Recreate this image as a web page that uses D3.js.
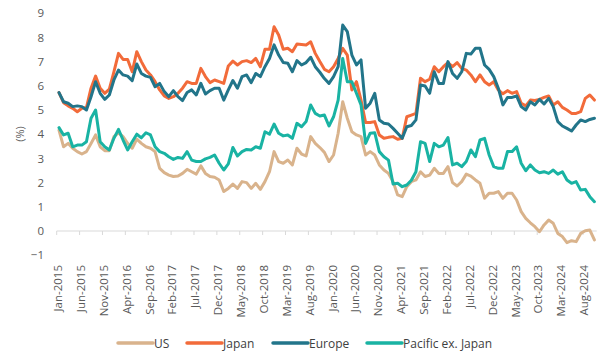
<!DOCTYPE html>
<html><head><meta charset="utf-8">
<script src="https://cdn.jsdelivr.net/npm/d3@7"></script>
<style>
html,body{margin:0;padding:0;background:#fff;}
svg{display:block;font-family:"Open Sans",sans-serif;}
</style></head>
<body>
<script>
// ---- data ----
const startMonth = new Date(2015, 0, 1);
const months = d3.timeMonth.range(startMonth, new Date(2024, 10, 1)); // Jan-2015 .. Oct-2024 (118)
const tickLabels = ["Jan-2015","Jun-2015","Nov-2015","Apr-2016","Sep-2016","Feb-2017","Jul-2017","Dec-2017",
  "May-2018","Oct-2018","Mar-2019","Aug-2019","Jan-2020","Jun-2020","Nov-2020","Apr-2021","Sep-2021",
  "Feb-2022","Jul-2022","Dec-2022","May-2023","Oct-2023","Mar-2024","Aug-2024"];
const yTicks = [-1,0,1,2,3,4,5,6,7,8,9];
const seriesNames = ["US","Japan","Europe","Pacific ex. Japan"];

const us = [4.17,3.48,3.62,3.42,3.28,3.18,3.28,3.62,3.97,3.48,3.32,3.32,3.9,4.06,3.9,3.62,3.42,3.8,3.62,
  3.48,3.42,3.28,2.59,2.41,2.31,2.25,2.27,2.38,2.55,2.45,2.35,2.69,2.38,2.25,2.22,2.11,1.63,1.76,1.94,
  1.76,2.04,2.0,1.76,1.97,1.72,2.04,2.45,3.28,2.87,2.8,2.93,2.73,3.42,3.18,3.1,3.9,3.62,3.45,3.25,
  2.87,3.14,4.04,5.34,4.66,4.1,3.97,3.9,3.14,3.28,3.14,2.73,2.52,2.38,2.04,1.49,1.42,1.83,2.04,
  2.11,2.45,2.25,2.31,2.59,2.38,2.38,2.66,2.0,1.86,2.04,2.35,2.27,2.11,1.97,1.35,1.56,1.56,1.63,1.35,
  1.56,1.56,1.28,0.8,0.52,0.34,0.18,-0.03,0.25,0.45,0.32,-0.1,-0.23,-0.48,-0.4,-0.44,-0.1,0.01,0.04,-0.37];
const japan = [5.72,5.3,5.17,5.07,4.93,5.07,5.1,5.9,6.4,5.9,5.69,5.86,6.58,7.34,7.09,7.09,6.58,7.41,7.0,
  6.65,6.45,6.17,5.83,5.58,5.48,5.55,5.69,5.9,6.17,6.1,6.1,6.72,6.38,6.13,6.24,6.17,6.1,6.82,7.02,
  6.86,7.0,7.04,6.96,7.13,6.79,7.51,7.51,8.44,8.1,7.51,7.55,7.41,7.73,7.71,7.69,7.82,7.34,7.0,6.68,
  6.58,6.79,7.13,7.55,7.27,5.83,6.17,5.41,4.48,4.48,4.52,3.97,3.83,3.87,3.9,3.79,3.83,4.72,4.79,
  4.86,6.31,6.17,6.27,6.79,6.58,6.79,6.96,6.79,6.96,6.72,6.65,6.45,6.17,6.45,6.17,6.03,6.17,5.83,5.67,
  5.8,5.69,5.76,5.28,5.17,5.41,5.39,5.44,5.52,5.58,5.21,5.34,5.11,5.0,4.86,4.86,4.93,5.48,5.62,5.41];
const europe = [5.72,5.34,5.28,5.14,5.17,5.14,5.0,5.55,6.17,5.69,5.44,5.62,6.24,6.65,6.45,6.4,6.21,6.9,6.51,
  6.4,6.35,5.96,6.1,5.76,5.55,5.8,5.55,5.39,5.72,5.83,5.62,6.1,5.66,5.8,5.9,5.9,5.41,5.83,6.22,
  5.9,6.38,6.45,6.13,6.51,6.38,6.79,7.13,7.69,7.27,6.96,6.93,6.58,7.04,6.86,6.96,7.18,6.79,6.56,6.3,
  6.1,6.38,6.79,8.51,8.24,7.27,6.86,7.07,5.07,5.28,5.69,4.59,4.45,4.42,4.24,4.04,3.83,4.31,4.36,
  4.59,6.03,5.99,5.69,6.58,6.1,6.1,7.0,6.51,6.31,6.58,7.34,7.31,7.55,7.55,6.86,6.68,6.38,5.9,5.21,
  5.52,5.52,5.58,5.14,5.0,5.34,5.21,5.44,5.25,5.48,5.14,4.52,4.34,4.24,4.13,4.38,4.59,4.52,4.61,4.66];
const pacific = [4.27,3.97,4.04,3.48,3.55,3.55,3.69,4.66,5.0,3.69,3.48,3.35,3.83,4.2,3.76,3.35,3.69,4.0,3.85,
  4.06,3.97,3.48,3.28,3.21,3.07,2.96,3.04,3.0,3.28,2.93,2.87,2.87,2.98,3.04,3.14,2.8,2.52,2.77,3.45,
  3.1,3.28,3.37,3.35,3.48,3.42,4.1,4.0,4.42,4.04,3.93,3.97,3.83,4.45,4.31,4.52,5.21,4.86,4.75,4.79,
  4.34,4.72,5.41,7.13,6.17,6.17,5.69,5.21,3.62,4.04,4.06,3.28,3.07,2.93,1.94,1.97,1.83,1.9,2.1,
  2.45,3.69,3.62,2.87,3.62,3.48,3.55,3.86,2.73,2.8,2.66,2.87,3.35,3.07,3.76,3.83,3.14,2.66,2.59,2.59,
  3.28,3.28,3.48,2.8,2.49,2.73,2.52,2.41,2.45,2.38,2.52,2.35,2.45,2.11,1.97,2.04,1.69,1.72,1.42,1.21];

const colors = ["#d9b38c","#f26b3a","#22758a","#19b3a3"];
const seriesValues = [us, japan, europe, pacific];

// ---- chart ----
const W = 609, H = 361;
const svg = d3.select("body").append("svg").attr("width", W).attr("height", H);

const x = d3.scaleBand().domain(months.map((d,i)=>i)).range([56.7, 596.7]).paddingInner(0).paddingOuter(0);
const y = d3.scaleLinear().domain([-1, 9]).range([255.2, 13.2]);

// y axis labels
const yAxis = d3.axisLeft(y).tickValues(yTicks).tickSize(0).tickPadding(0).tickFormat(d3.format("d"));
const gy = svg.append("g").attr("transform","translate(44,0)").call(yAxis);
gy.select(".domain").remove();
gy.selectAll("text").attr("fill","#595959").style("font-size","11.5px").style("font-family","Open Sans");

// y title
svg.append("text").attr("transform","translate(24,134) rotate(-90)").attr("text-anchor","middle")
  .attr("fill","#595959").style("font-size","11px").text("(%)");

// x axis line at zero
svg.append("line").attr("x1", x.range()[0]).attr("x2", x.range()[1]).attr("y1", y(0)).attr("y2", y(0))
  .attr("stroke","#d9d9d9").attr("stroke-width",1);
const tickIdx = months.map((d,i)=>i).filter(i=>i%5===0);
svg.append("g").selectAll("line").data(tickIdx).join("line")
  .attr("x1", d=>x(d)).attr("x2", d=>x(d)).attr("y1", y(0)).attr("y2", y(0)+4)
  .attr("stroke","#d9d9d9").attr("stroke-width",1);
svg.append("g").selectAll("text").data(tickIdx).join("text")
  .attr("transform", (d,k)=>`translate(${x(d)+x.bandwidth()/2+3},265) rotate(-90)`)
  .attr("text-anchor","end").attr("fill","#595959").style("font-size","11.5px")
  .text((d,k)=>tickLabels[k]);

// lines
const line = d3.line().x((d,i)=>x(i)+x.bandwidth()/2).y(d=>y(d)).curve(d3.curveLinear);
svg.append("g").selectAll("path").data(seriesValues).join("path")
  .attr("d", d=>line(d)).attr("fill","none").attr("stroke",(d,i)=>colors[i])
  .attr("stroke-width",3).attr("stroke-linejoin","round").attr("stroke-linecap","round");

// legend
const legX = [118, 187, 273, 367];
const lg = svg.append("g").selectAll("g").data(seriesNames).join("g")
  .attr("transform",(d,i)=>`translate(${legX[i]},343)`);
lg.append("line").attr("x1",0).attr("x2",35).attr("stroke",(d,i)=>colors[i]).attr("stroke-width",3.5).attr("stroke-linecap","round");
lg.append("text").attr("x",36).attr("y",4.5).attr("fill","#404040").style("font-size","12px").text(d=>d);
</script>
</body></html>
